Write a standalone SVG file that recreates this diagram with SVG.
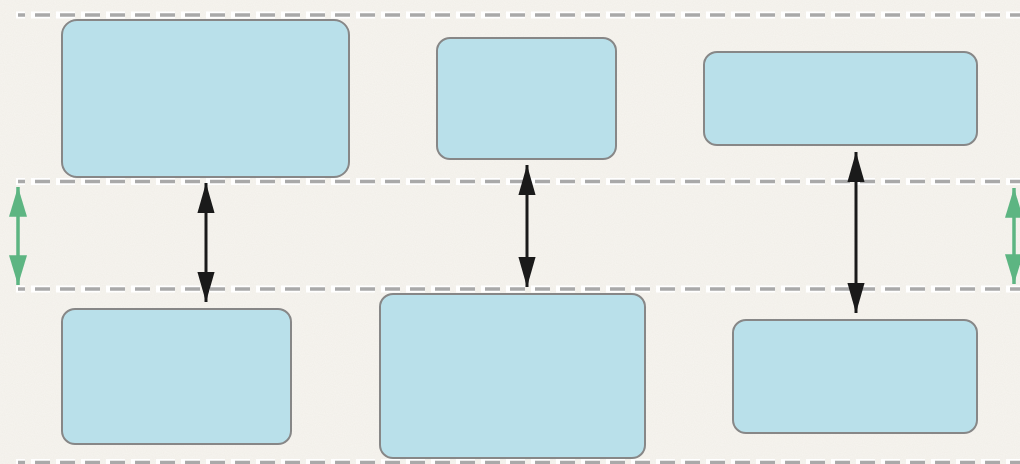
<svg xmlns="http://www.w3.org/2000/svg" width="1020" height="464" viewBox="0 0 1020 464">
<style>
.bg{fill:#f6f4ef}
.node rect{fill:#b9e0ea;stroke:#878787;stroke-width:2}
.lane-w{stroke:#ffffff;stroke-width:7;stroke-dasharray:19 6;stroke-dashoffset:10;fill:none}
.lane-g{stroke:#a9a9a9;stroke-width:3.5;stroke-dasharray:15 10;stroke-dashoffset:8;fill:none}
.conn{stroke:#1a1a1a;stroke-width:3;fill:none}
.gconn{stroke:#5db582;stroke-width:3.5;fill:none}
</style>
<defs>
<filter id="noise" x="0" y="0" width="100%" height="100%">
<feTurbulence type="fractalNoise" baseFrequency="0.9" numOctaves="2" seed="3"/>
<feColorMatrix type="matrix" values="0 0 0 0 0.55  0 0 0 0 0.5  0 0 0 0 0.42  0 0 0 0.1 0"/>
</filter>
<marker id="ah" markerUnits="userSpaceOnUse" markerWidth="30" markerHeight="18" viewBox="0 0 28 16" refX="28" refY="8" orient="auto-start-reverse">
<path d="M0,0 L28,8 L0,16 Z" fill="#1a1a1a"/>
</marker>
<marker id="gh" markerUnits="userSpaceOnUse" markerWidth="30" markerHeight="18" viewBox="0 0 28 17" refX="28" refY="8.5" orient="auto-start-reverse">
<path d="M0,0 L28,8.5 L0,17 Z" fill="#5db582"/>
</marker>
</defs>
<rect class="bg" x="0" y="0" width="1020" height="464"/>
<rect x="0" y="0" width="1020" height="464" filter="url(#noise)"/>
<g id="lanes">
<line class="lane-w" x1="16" y1="15" x2="1020" y2="15"/>
<line class="lane-g" x1="18" y1="15" x2="1020" y2="15"/>
<line class="lane-w" x1="16" y1="181.5" x2="1020" y2="181.5"/>
<line class="lane-g" x1="18" y1="181.5" x2="1020" y2="181.5"/>
<line class="lane-w" x1="16" y1="289" x2="1020" y2="289"/>
<line class="lane-g" x1="18" y1="289" x2="1020" y2="289"/>
<line class="lane-w" x1="16" y1="462.5" x2="1020" y2="462.5"/>
<line class="lane-g" x1="18" y1="462.5" x2="1020" y2="462.5"/>
</g>
<g id="n1" class="node"><rect x="62" y="20" width="287" height="157" rx="15"/></g>
<g id="n2" class="node"><rect x="437" y="38" width="179" height="121" rx="13"/></g>
<g id="n3" class="node"><rect x="704" y="52" width="273" height="93" rx="13"/></g>
<g id="n4" class="node"><rect x="62" y="309" width="229" height="135" rx="13"/></g>
<g id="n5" class="node"><rect x="380" y="294" width="265" height="164" rx="13"/></g>
<g id="n6" class="node"><rect x="733" y="320" width="244" height="113" rx="13"/></g>
<g id="connectors">
<line class="conn" x1="206" y1="183" x2="206" y2="302" marker-start="url(#ah)" marker-end="url(#ah)"/>
<line class="conn" x1="527" y1="165" x2="527" y2="287" marker-start="url(#ah)" marker-end="url(#ah)"/>
<line class="conn" x1="856" y1="152" x2="856" y2="313" marker-start="url(#ah)" marker-end="url(#ah)"/>
<line class="gconn" x1="18" y1="187" x2="18" y2="285" marker-start="url(#gh)" marker-end="url(#gh)"/>
<line class="gconn" x1="1014" y1="188" x2="1014" y2="284" marker-start="url(#gh)" marker-end="url(#gh)"/>
</g>
</svg>
